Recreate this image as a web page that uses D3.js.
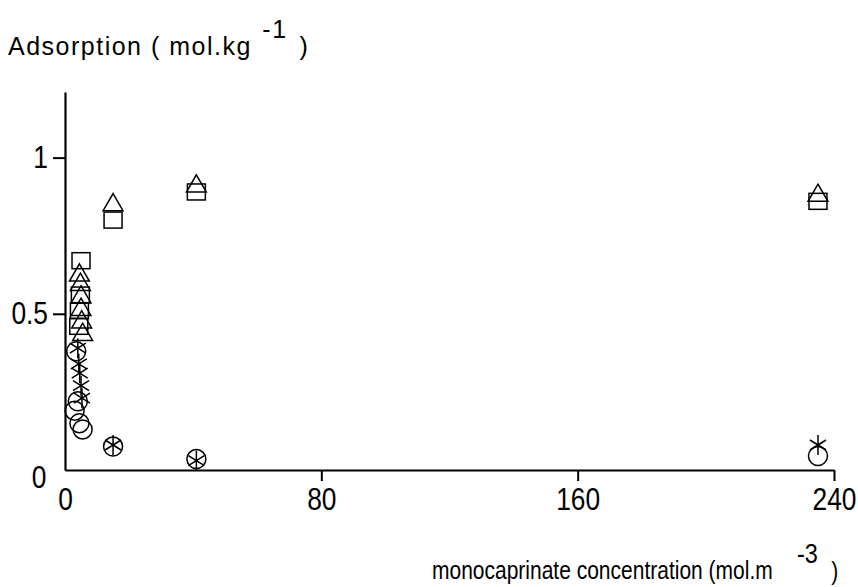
<!DOCTYPE html>
<html>
<head>
<meta charset="utf-8">
<script src="https://cdn.jsdelivr.net/npm/d3@7"></script>
<style>
  body { margin: 0; background: white; }
  text { font-family: "Liberation Sans", Arial, sans-serif; fill: black; }
</style>
</head>
<body>
<svg id="chart"></svg>
<script>
// series (x = concentration, y = adsorption)
var triX = [4.5, 4.8, 5, 5, 5.2, 5.5, 15, 41, 235]
var triY = [0.62, 0.59, 0.55, 0.51, 0.47, 0.43, 0.845, 0.905, 0.875]
var sqX = [5, 4.8, 4.5, 4.3, 15, 41, 235]
var sqY = [0.67, 0.56, 0.51, 0.46, 0.80, 0.89, 0.86]
var starX = [4, 4.3, 4.6, 5, 5.3, 15, 41, 235]
var starY = [0.39, 0.34, 0.31, 0.27, 0.23, 0.08, 0.03, 0.08]
var circX = [3.5, 4, 3, 4.5, 5.5, 15, 41, 235]
var circY = [0.38, 0.22, 0.19, 0.15, 0.13, 0.075, 0.035, 0.045]

var xTicks = [0, 80, 160, 240]
var yTicks = [0, 0.5, 1]

var dimensions = {
    width: 858,
    height: 587,
    margin: { top: 92, bottom: 117, left: 65, right: 24 }
}

var svg = d3.select("#chart")
            .attr("width", dimensions.width)
            .attr("height", dimensions.height)

var x = d3.scaleLinear()
            .domain([0, 240])
            .range([dimensions.margin.left, dimensions.width - dimensions.margin.right])
var y = d3.scaleLinear()
            .domain([0, 1.21])
            .range([dimensions.height - dimensions.margin.bottom, dimensions.margin.top])

// x axis
var xAxis = svg.append("g")
    .attr("transform", `translate(0,${y(0)})`)
    .call(d3.axisBottom(x).tickValues(xTicks).tickFormat(d3.format("d")).tickSize(11).tickSizeOuter(0).tickPadding(7))
xAxis.select(".domain").attr("stroke-width", 2.2)
xAxis.selectAll(".tick line").attr("stroke-width", 2)
xAxis.selectAll(".tick text").style("font-size", "31px").attr("transform", "scale(0.85,1)")
xAxis.selectAll(".tick").filter(d => d == 0).select("line").remove()

// y axis
var yAxis = svg.append("g")
    .attr("transform", `translate(${x(0)},0)`)
    .call(d3.axisLeft(y).tickValues(yTicks).tickFormat(d => d == 0 ? "0" : d).tickSize(12).tickSizeOuter(0).tickPadding(8))
yAxis.select(".domain").attr("stroke-width", 2.2)
yAxis.selectAll(".tick line").attr("stroke-width", 2)
yAxis.selectAll(".tick text").style("font-size", "31px").attr("transform", "scale(0.85,1)")
yAxis.selectAll(".tick").filter(d => d == 0).select("line").remove()
yAxis.selectAll(".tick").filter(d => d == 0).select("text").attr("dy", "0.55em").attr("x", -22)

var markStyle = g => g.attr("fill", "none").attr("stroke", "black").attr("stroke-width", 1.5)

// squares
svg.append("g").call(markStyle)
    .selectAll("rect")
    .data(d3.zip(sqX, sqY))
    .join("rect")
    .attr("x", d => x(d[0]) - 9)
    .attr("y", d => y(d[1]) - 8)
    .attr("width", 18)
    .attr("height", 16)

// triangles
var tri = d3.symbol().type(d3.symbolTriangle).size(170)
svg.append("g").call(markStyle)
    .selectAll("path")
    .data(d3.zip(triX, triY))
    .join("path")
    .attr("d", tri)
    .attr("transform", d => `translate(${x(d[0])},${y(d[1]) - 1})`)

// asterisks
svg.append("g").call(markStyle)
    .selectAll("path")
    .data(d3.zip(starX, starY))
    .join("path")
    .attr("d", "M-8,-5L8,5M-8,5L8,-5M0,-10L0,10")
    .attr("transform", d => `translate(${x(d[0])},${y(d[1])})`)

// circles
svg.append("g").call(markStyle)
    .selectAll("circle")
    .data(d3.zip(circX, circY))
    .join("circle")
    .attr("cx", d => x(d[0]))
    .attr("cy", d => y(d[1]))
    .attr("r", 9.5)

// axis titles
var yTitle = svg.append("text")
    .attr("x", 8)
    .attr("y", 55)
    .style("font-size", "25px")
    .style("letter-spacing", "1.5px")
yTitle.append("tspan").text("Adsorption ( mol.kg ")
yTitle.append("tspan").attr("dy", -17).attr("dx", 2).text("-1")
yTitle.append("tspan").attr("dy", 17).attr("dx", 12).text(")")

var xTitle = svg.append("text")
    .attr("transform", "translate(432,579) scale(0.84,1)")
    .style("font-size", "25px")
xTitle.append("tspan").text("monocaprinate concentration (mol.m ")
xTitle.append("tspan").attr("dy", -16).attr("dx", 22).style("font-size", "28px").text("-3")
xTitle.append("tspan").attr("dy", 17).attr("dx", 16).text(")")
</script>
</body>
</html>
